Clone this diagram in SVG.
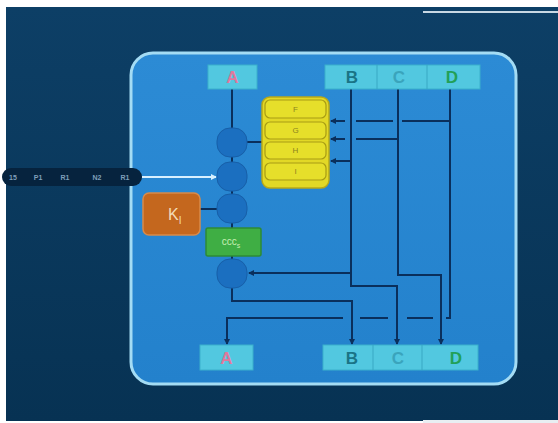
<svg xmlns="http://www.w3.org/2000/svg" width="558" height="423" viewBox="0 0 558 423">
<defs>
<linearGradient id="bg" x1="0" y1="0" x2="0" y2="1">
<stop offset="0" stop-color="#0d3f66"/>
<stop offset="1" stop-color="#073253"/>
</linearGradient>
<linearGradient id="panel" x1="0" y1="0" x2="0" y2="1">
<stop offset="0" stop-color="#2c8bd5"/>
<stop offset="1" stop-color="#2381cc"/>
</linearGradient>
<marker id="arr" viewBox="0 0 6 6" refX="5" refY="3" markerWidth="6" markerHeight="6" markerUnits="userSpaceOnUse" orient="auto">
<path d="M0,0 L6,3 L0,6 z" fill="#0a2f5c"/>
</marker>
<marker id="warr" viewBox="0 0 6 6" refX="5" refY="3" markerWidth="6" markerHeight="6" markerUnits="userSpaceOnUse" orient="auto">
<path d="M0,0 L6,3 L0,6 z" fill="#d8f0ff"/>
</marker>
</defs>
<style>
.ln{fill:none;stroke:#0a2f5c;stroke-width:2}
.box{fill:#52c8e0;stroke:#3ab0cc;stroke-width:1}
.div{stroke:#38a8c4;stroke-width:1}
.lbl{font-family:"Liberation Sans",Arial,sans-serif;font-size:17px;font-weight:bold;text-anchor:middle}
.circ{fill:#1b6fc0;stroke:#175fa8;stroke-width:1}
.row{fill:#e6df2a;stroke:#a89c14;stroke-width:1.2}
.rt{font-family:"Liberation Sans",Arial,sans-serif;font-size:8px;fill:#8c8420;text-anchor:middle}
.pt{font-family:"Liberation Sans",Arial,sans-serif;font-size:7px;font-weight:bold;fill:#7f9fba;text-anchor:middle}
</style>
<rect x="0" y="0" width="558" height="423" fill="#ffffff"/>
<rect x="6" y="7" width="552" height="414" fill="url(#bg)"/>
<rect x="423" y="11" width="135" height="2" fill="#c8d8e4"/>
<rect x="423" y="420" width="135" height="3" fill="#e8eef2"/>

<g id="panel-bg">
<rect x="131" y="53" width="385" height="331" rx="22" fill="url(#panel)" stroke="#a4dcf4" stroke-width="3"/>
</g>

<g id="input-tape">
<rect x="2" y="168" width="140" height="18" rx="9" fill="#06233e"/>
<text class="pt" x="13" y="180">15</text>
<text class="pt" x="38" y="180">P1</text>
<text class="pt" x="65" y="180">R1</text>
<text class="pt" x="97" y="180">N2</text>
<text class="pt" x="125" y="180">R1</text>
</g>

<g id="connectors">
<line class="ln" x1="232" y1="89" x2="232" y2="128"/>
<line class="ln" x1="232" y1="157" x2="232" y2="162"/>
<line class="ln" x1="232" y1="191" x2="232" y2="194"/>
<line class="ln" x1="232" y1="223" x2="232" y2="228"/>
<line class="ln" x1="232" y1="256" x2="232" y2="259"/>
<line class="ln" x1="247" y1="142" x2="262" y2="142"/>
<line class="ln" x1="200" y1="209" x2="217" y2="209"/>
<line x1="142" y1="177" x2="216" y2="177" stroke="#d8f0ff" stroke-width="2" marker-end="url(#warr)"/>
<path class="ln" d="M351,89 V286 H397 V344" marker-end="url(#arr)"/>
<path class="ln" d="M398,89 V275 H441 V344" marker-end="url(#arr)"/>
<path class="ln" d="M450,89 V318 H446"/>
<line class="ln" x1="433" y1="318" x2="407" y2="318"/>
<line class="ln" x1="388" y1="318" x2="360" y2="318"/>
<path class="ln" d="M343,318 H227 V344" marker-end="url(#arr)"/>
<path class="ln" d="M232,288 V301 H352 V344" marker-end="url(#arr)"/>
<line class="ln" x1="351" y1="273" x2="249" y2="273" marker-end="url(#arr)"/>
<line class="ln" x1="450" y1="121" x2="402" y2="121"/>
<line class="ln" x1="393" y1="121" x2="356" y2="121"/>
<line class="ln" x1="345" y1="121" x2="331" y2="121" marker-end="url(#arr)"/>
<line class="ln" x1="398" y1="139" x2="356" y2="139"/>
<line class="ln" x1="345" y1="139" x2="331" y2="139" marker-end="url(#arr)"/>
<line class="ln" x1="351" y1="161" x2="331" y2="161" marker-end="url(#arr)"/>
</g>

<g id="top-A">
<rect class="box" x="208" y="65" width="49" height="24"/>
<text class="lbl" x="232.5" y="83" fill="#e0789c">A</text>
</g>
<g id="top-BCD">
<rect class="box" x="325" y="65" width="155" height="24"/>
<line class="div" x1="377" y1="65" x2="377" y2="89"/>
<line class="div" x1="427" y1="65" x2="427" y2="89"/>
<text class="lbl" x="352" y="83" fill="#1a7486">B</text>
<text class="lbl" x="399" y="83" fill="#3aa4bc">C</text>
<text class="lbl" x="452" y="83" fill="#22a058">D</text>
</g>

<g id="bottom-A">
<rect class="box" x="200" y="345" width="53" height="25"/>
<text class="lbl" x="226.5" y="364" fill="#e0789c">A</text>
</g>
<g id="bottom-BCD">
<rect class="box" x="323" y="345" width="155" height="25"/>
<line class="div" x1="373" y1="345" x2="373" y2="370"/>
<line class="div" x1="422" y1="345" x2="422" y2="370"/>
<text class="lbl" x="352" y="364" fill="#1a7486">B</text>
<text class="lbl" x="398" y="364" fill="#3aa4bc">C</text>
<text class="lbl" x="456" y="364" fill="#22a058">D</text>
</g>

<g id="node-1"><rect class="circ" x="217" y="128" width="30" height="29" rx="13"/></g>
<g id="node-2"><rect class="circ" x="217" y="162" width="30" height="29" rx="13"/></g>
<g id="node-3"><rect class="circ" x="217" y="194" width="30" height="29" rx="13"/></g>
<g id="node-4"><rect class="circ" x="217" y="259" width="30" height="29" rx="13"/></g>

<g id="K-box">
<rect x="143" y="193" width="57" height="42" rx="6" fill="#c4671e" stroke="#d88a4a" stroke-width="1.5"/>
<text x="168" y="220" font-family="Liberation Sans, Arial, sans-serif" font-size="16" fill="#f2dcb8">K<tspan font-size="10" dy="4">I</tspan></text>
</g>

<g id="green-box">
<rect x="206" y="228" width="55" height="28" rx="2" fill="#3fae44" stroke="#2e8a36" stroke-width="1.5"/>
<text x="231" y="245" font-family="Liberation Sans, Arial, sans-serif" font-size="10" fill="#c8f0b4" text-anchor="middle">ccc<tspan font-size="7" dy="3">s</tspan></text>
</g>

<g id="register-stack">
<rect x="262" y="97" width="67" height="91" rx="8" fill="#e2d826" stroke="#b8a818" stroke-width="1.5"/>
<rect class="row" x="265" y="100" width="61" height="18" rx="5" stroke="#e0561a" stroke-width="2.5"/>
<text class="rt" x="295.5" y="112">F</text>
<rect class="row" x="265" y="122" width="61" height="17" rx="5"/>
<text class="rt" x="295.5" y="133">G</text>
<rect class="row" x="265" y="142" width="61" height="17" rx="5"/>
<text class="rt" x="295.5" y="153">H</text>
<rect class="row" x="265" y="163" width="61" height="17" rx="5"/>
<text class="rt" x="295.5" y="174">I</text>
</g>
</svg>
